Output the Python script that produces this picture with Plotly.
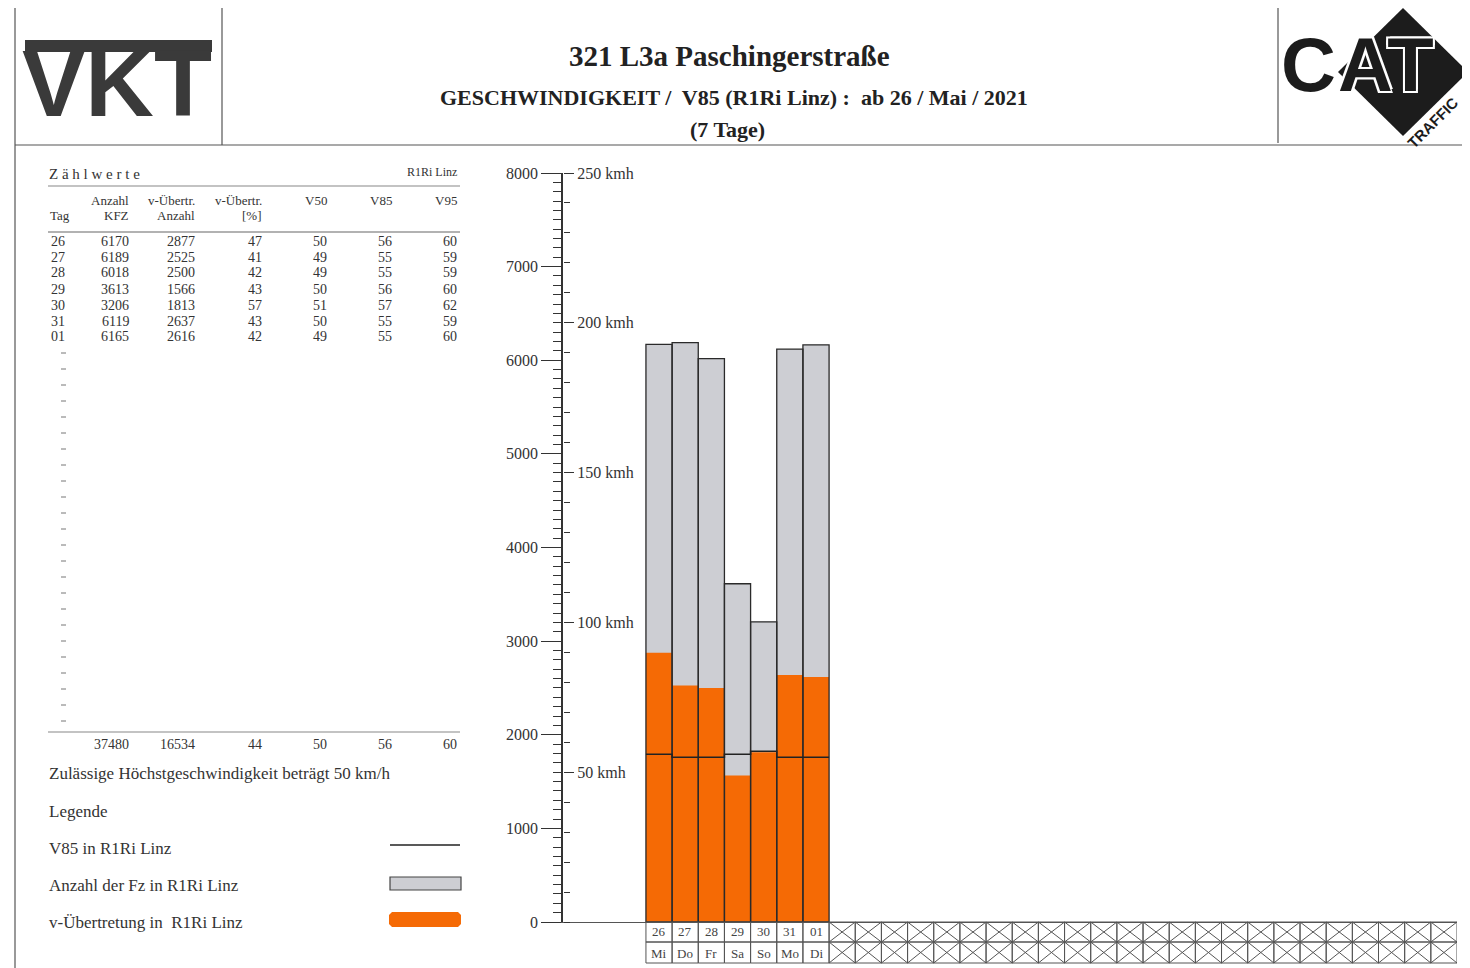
import plotly.graph_objects as go

# daily values
days = ["26", "27", "28", "29", "30", "31", "01"]
weekdays = ["Mi", "Do", "Fr", "Sa", "So", "Mo", "Di"]
kfz = [6170, 6189, 6018, 3613, 3206, 6119, 6165]
exceed = [2877, 2525, 2500, 1566, 1813, 2637, 2616]
exceed_pct = [47, 41, 42, 43, 57, 43, 42]
v50 = [50, 49, 49, 50, 51, 50, 49]
v85 = [56, 55, 55, 56, 57, 55, 55]
v95 = [60, 59, 59, 60, 62, 59, 60]
totals = ["37480", "16534", "44", "50", "56", "60"]
n_slots = 31  # one month of day slots on the x axis

W, H = 1470, 968
OFF = 8  # the page body adds an 8px margin
SERIF = "Liberation Serif"
INK = "#333333"
GREY = "#cdced3"
ORANGE = "#f56a05"


def px(x):
    return (x - OFF) / W


def py(y):
    return 1 - (y - OFF) / H


idx = list(range(len(days)))

fig = go.Figure()

# grey: all vehicles, orange: speeding vehicles, then outlines on top
fig.add_trace(go.Bar(x=idx, y=kfz, width=1, marker=dict(color=GREY, line=dict(width=0)),
                     name="Anzahl der Fz"))
fig.add_trace(go.Bar(x=idx, y=exceed, width=1, marker=dict(color=ORANGE, line=dict(width=0)),
                     name="v-Übertretung"))
fig.add_trace(go.Bar(x=idx, y=kfz, width=1,
                     marker=dict(color="rgba(0,0,0,0)", line=dict(color="#2a2a2a", width=1.3)),
                     name="outline"))

# V85 as a step line on the km/h axis
fig.add_trace(go.Scatter(x=[i - 0.5 for i in idx] + [idx[-1] + 0.5], y=v85 + [v85[-1]],
                         mode="lines", line=dict(color="#222222", width=1.5, shape="hv"),
                         yaxis="y2", name="V85"))

x0, x1 = px(563), px(1457)
y0, y1 = py(922), py(173)

fig.update_layout(
    width=W, height=H,
    margin=dict(l=0, r=0, t=0, b=0, autoexpand=False),
    paper_bgcolor="white", plot_bgcolor="white",
    showlegend=False, barmode="overlay",
    font=dict(family=SERIF, color=INK),
    xaxis=dict(domain=[x0, x1], range=[-3.67, n_slots - 0.5], showticklabels=False,
               ticks="", showgrid=False, zeroline=False, showline=True,
               linecolor="#555555", linewidth=1),
    yaxis=dict(domain=[y0, y1], range=[0, 8000], tickvals=list(range(0, 8001, 1000)),
               ticks="outside", ticklen=20, tickwidth=1.2, tickcolor=INK,
               minor=dict(dtick=100, ticks="outside", ticklen=8, tickcolor=INK, tickwidth=1),
               showline=True, linecolor=INK, linewidth=1.5, showgrid=False, zeroline=False,
               tickfont=dict(family=SERIF, size=16, color=INK)),
    yaxis2=dict(overlaying="y", anchor="free", position=x0, side="right",
                range=[0, 250], tickvals=[50, 100, 150, 200, 250],
                ticktext=[f"{v} kmh" for v in [50, 100, 150, 200, 250]],
                ticks="outside", ticklen=10, tickwidth=1.2, tickcolor=INK,
                minor=dict(dtick=10, ticks="outside", ticklen=6, tickcolor=INK, tickwidth=1),
                showline=False, showgrid=False, zeroline=False,
                tickfont=dict(family=SERIF, size=16, color=INK)),
)

shapes = []
ann = []


def line(xa, ya, xb, yb, color="#555555", width=1.2):
    shapes.append(dict(type="line", xref="paper", yref="paper",
                       x0=px(xa), y0=py(ya), x1=px(xb), y1=py(yb),
                       line=dict(color=color, width=width)))


def text(x, y, s, size=13, anchor="left", bold=False, color=INK, family=SERIF, **kw):
    ann.append(dict(x=px(x), y=py(y), xref="paper", yref="paper", text=f"<b>{s}</b>" if bold else s,
                    showarrow=False, xanchor=anchor, yanchor="middle",
                    font=dict(family=family, size=size, color=color), **kw))


def poly(xs, ys, fill, close=True):
    path = "M " + " L ".join(f"{px(a):.5f},{py(b):.5f}" for a, b in zip(xs, ys))
    shapes.append(dict(type="path", xref="paper", yref="paper", path=path + (" Z" if close else ""),
                       fillcolor=fill, line=dict(width=0)))


# page frame
line(15, 5, 1478, 5)
line(15, 145, 1478, 145)
line(15, 5, 15, 976)
line(222, 5, 222, 145)
line(1278, 5, 1278, 143)

# header
text(729, 56, "321 L3a Paschingerstraße", size=29, anchor="center", bold=True, color="#222")
text(734, 98, "GESCHWINDIGKEIT /  V85 (R1Ri Linz) :  ab 26 / Mai / 2021", size=22,
     anchor="center", bold=True, color="#222")
text(727, 129, "(7 Tage)", size=22, anchor="center", bold=True, color="#222")

# VKT logo
shapes.append(dict(type="rect", xref="paper", yref="paper", x0=px(25), x1=px(212),
                   y0=py(52), y1=py(40), fillcolor="#3a3a3a", line=dict(width=0)))
text(117, 83, "VKT", size=95, anchor="center", bold=True, color="#3a3a3a",
     family="Liberation Sans")

# CAT TRAFFIC logo
poly([1403, 1468, 1403, 1338], [8, 72, 136, 72], "#1c1c1c")
text(1308, 64, "C", size=76, anchor="center", bold=True, color="#1c1c1c",
     family="Liberation Sans")
ann.append(dict(x=px(1386), y=py(64), xref="paper", yref="paper", text="<b>AT</b>",
                showarrow=False, xanchor="center", yanchor="middle",
                font=dict(family="Liberation Sans", size=76, color="#1c1c1c",
                          shadow="2px 2px 0 white, -2px -2px 0 white, 2px -2px 0 white, -2px 2px 0 white")))
text(1433, 123, "TRAFFIC", size=15, anchor="center", bold=True, color="#1c1c1c",
     family="Liberation Sans", textangle=-45)

# count table
text(47, 174, "Z ä h l w e r t e", size=15)
text(459, 172, "R1Ri Linz", size=12, anchor="right")
line(48, 186, 460, 186, color="#888888")
line(48, 232, 460, 232, color="#666666")
col_right = [131, 197, 264, 329, 394, 459]
head1 = ["Anzahl", "v-Übertr.", "v-Übertr.", "V50", "V85", "V95"]
head2 = ["KFZ", "Anzahl", "[%]", "", "", ""]
text(48, 216, "Tag", size=13)
for xr, h1, h2 in zip(col_right, head1, head2):
    text(xr, 200, h1, size=13, anchor="right")
    if h2:
        text(xr, 216, h2, size=13, anchor="right")

rows = list(zip(days, kfz, exceed, exceed_pct, v50, v85, v95))
for r, row in enumerate(rows):
    yy = 241 + 16 * r
    text(67, yy, row[0], size=14, anchor="right")
    for xr, v in zip(col_right, row[1:]):
        text(xr, yy, str(v), size=14, anchor="right")
for r in range(len(days), n_slots):
    yy = 241 + 16 * r
    line(61, yy, 66, yy, color="#777777", width=1)

line(48, 732, 460, 732, color="#888888")
for xr, v in zip(col_right, totals):
    text(xr, 744, v, size=14, anchor="right")

text(47, 773, "Zulässige Höchstgeschwindigkeit beträgt 50 km/h", size=17)

# legend
text(47, 811, "Legende", size=17)
text(47, 848, "V85 in R1Ri Linz", size=17)
line(390, 845, 460, 845, color="#222222", width=1.3)
text(47, 885, "Anzahl der Fz in R1Ri Linz", size=17)
shapes.append(dict(type="rect", xref="paper", yref="paper", x0=px(390), x1=px(461),
                   y0=py(890), y1=py(877), fillcolor=GREY, line=dict(color="#444444", width=1.2)))
text(47, 922, "v-Übertretung in  R1Ri Linz", size=17)
poly([392, 458, 461, 461, 458, 392, 389, 389], [912, 912, 915, 924, 927, 927, 924, 915], ORANGE)

# day cells under the x axis
row_edges = [922, 942, 963]
for i in range(n_slots):
    for k in range(2):
        ya, yb = py(row_edges[k + 1]), py(row_edges[k])
        shapes.append(dict(type="rect", xref="x", yref="paper", x0=i - 0.5, x1=i + 0.5,
                           y0=ya, y1=yb, line=dict(color="#555555", width=1)))
        if i >= len(days):
            shapes.append(dict(type="line", xref="x", yref="paper", x0=i - 0.5, x1=i + 0.5,
                               y0=ya, y1=yb, line=dict(color="#555555", width=1)))
            shapes.append(dict(type="line", xref="x", yref="paper", x0=i - 0.5, x1=i + 0.5,
                               y0=yb, y1=ya, line=dict(color="#555555", width=1)))
for i, (d, w) in enumerate(zip(days, weekdays)):
    for lab, yy in [(d, 931), (w, 953)]:
        ann.append(dict(x=i, y=py(yy), xref="x", yref="paper", text=lab, showarrow=False,
                        xanchor="center", yanchor="middle",
                        font=dict(family=SERIF, size=13, color="#444444")))

fig.update_layout(shapes=shapes, annotations=ann)
fig.write_html("out.html")
